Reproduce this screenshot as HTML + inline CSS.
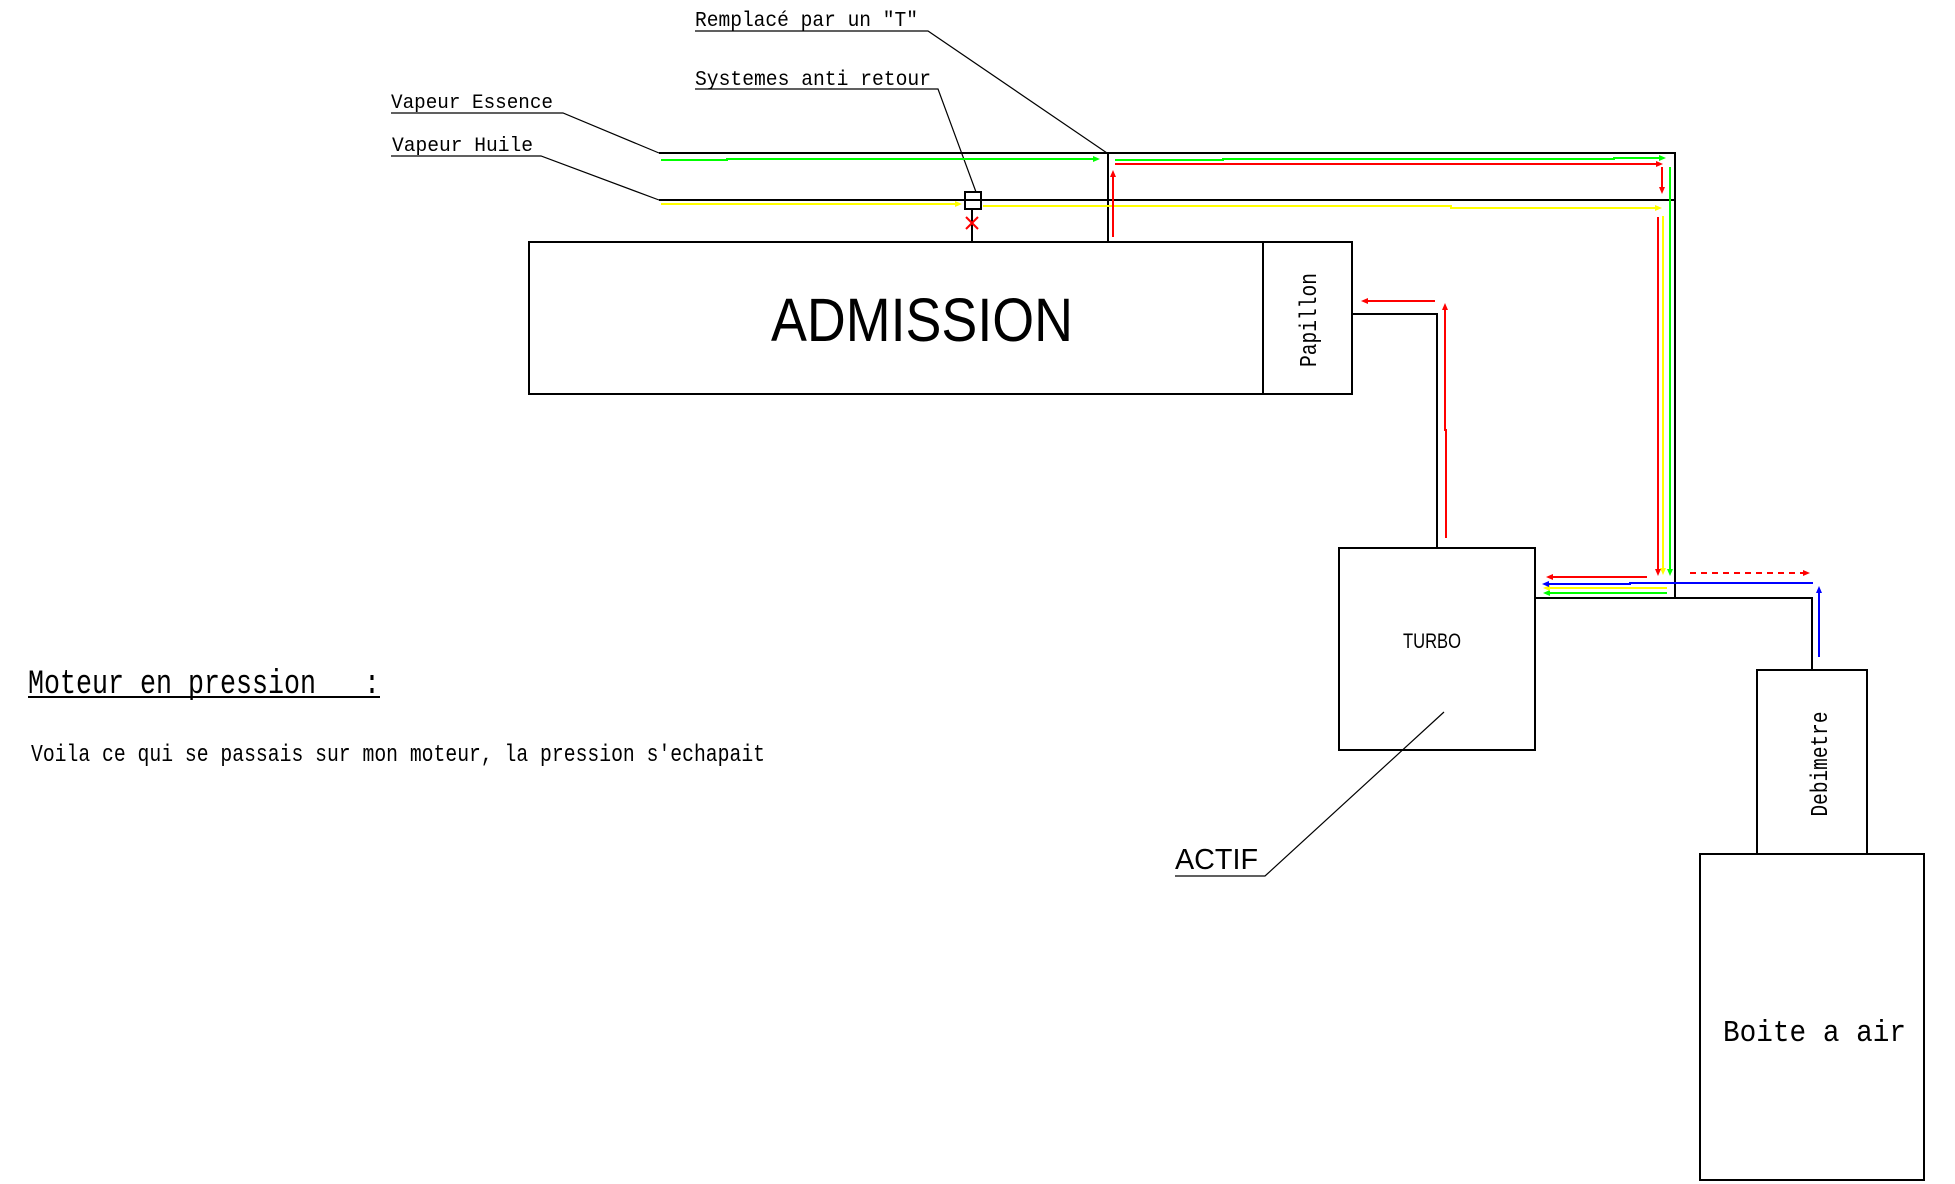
<!DOCTYPE html>
<html><head><meta charset="utf-8">
<style>html,body{margin:0;padding:0;background:#fff}svg{display:block}</style>
</head>
<body>
<svg width="1955" height="1184" viewBox="0 0 1955 1184" xmlns="http://www.w3.org/2000/svg">
<rect width="1955" height="1184" fill="#fff"/>

<!-- main black structure -->
<g stroke="#000" stroke-width="2" fill="none">
  <rect x="529" y="242" width="823" height="152"/>
  <line x1="1263" y1="242" x2="1263" y2="394"/>
  <line x1="659" y1="153" x2="1675" y2="153"/>
  <line x1="659" y1="200" x2="1675" y2="200"/>
  <line x1="1675" y1="152" x2="1675" y2="598"/>
  <line x1="1108" y1="153" x2="1108" y2="242"/>
  <line x1="972" y1="209" x2="972" y2="242"/>
  <rect x="965" y="192" width="16" height="17"/>
  <polyline points="1352,314 1437,314 1437,548"/>
  <rect x="1339" y="548" width="196" height="202"/>
  <polyline points="1535,598 1812,598 1812,670"/>
  <rect x="1757" y="670" width="110" height="184"/>
  <rect x="1700" y="854" width="224" height="326"/>
  <line x1="28" y1="697" x2="380" y2="697"/>
</g>

<!-- leaders -->
<g stroke="#000" stroke-width="1.2" fill="none">
  <polyline points="695,31 928,31 1107,153"/>
  <polyline points="695,89 938,89 976,192"/>
  <polyline points="391,113 563,113 659,153"/>
  <polyline points="391,156 541,156 659,200"/>
  <polyline points="1175,876 1265,876 1444,712"/>
</g>

<!-- red X -->
<g stroke="#f00" stroke-width="2">
  <line x1="966" y1="217" x2="978" y2="229"/>
  <line x1="966" y1="229" x2="978" y2="217"/>
</g>

<!-- green -->
<g stroke="#00ff00" stroke-width="2" fill="none">
  <polyline points="661,160 727,160 727,159 1094,159"/>
  <polyline points="1115,160 1223,160 1223,159 1614,159 1614,158 1660,158"/>
  <line x1="1670" y1="167" x2="1670" y2="570"/>
  <line x1="1667" y1="593" x2="1549" y2="593"/>
</g>
<g fill="#00ff00">
  <polygon points="1100,159 1093,156 1093,162"/>
  <polygon points="1666,158 1659,155 1659,161"/>
  <polygon points="1670,576 1667,569 1673,569"/>
  <polygon points="1543,593 1550,590 1550,596"/>
</g>

<!-- yellow -->
<g stroke="#ffff00" stroke-width="2" fill="none">
  <line x1="661" y1="204" x2="956" y2="204"/>
  <polyline points="983,206 1451,206 1451,208 1656,208"/>
  <line x1="1663" y1="216" x2="1663" y2="569"/>
  <line x1="1667" y1="588" x2="1549" y2="588"/>
</g>
<g fill="#ffff00">
  <polygon points="962,204 955,201 955,207"/>
  <polygon points="1662,208 1655,205 1655,211"/>
  <polygon points="1663,575 1660,568 1666,568"/>
  <polygon points="1543,588 1550,585 1550,591"/>
</g>

<!-- red -->
<g stroke="#f00" stroke-width="2" fill="none">
  <line x1="1113" y1="237" x2="1113" y2="176"/>
  <line x1="1115" y1="164" x2="1657" y2="164"/>
  <line x1="1662" y1="167" x2="1662" y2="188"/>
  <line x1="1658" y1="217" x2="1658" y2="569"/>
  <line x1="1647" y1="577" x2="1552" y2="577"/>
  <line x1="1690" y1="573" x2="1804" y2="573" stroke-dasharray="6 5"/>
  <polyline points="1446,538 1446,430 1445,430 1445,309"/>
  <line x1="1435" y1="301" x2="1367" y2="301"/>
</g>
<g fill="#f00">
  <polygon points="1113,170 1110,177 1116,177"/>
  <polygon points="1663,164 1656,161 1656,167"/>
  <polygon points="1662,194 1659,187 1665,187"/>
  <polygon points="1658,576 1655,569 1661,569"/>
  <polygon points="1546,577 1553,574 1553,580"/>
  <polygon points="1810,573 1803,570 1803,576"/>
  <polygon points="1445,303 1442,310 1448,310"/>
  <polygon points="1361,301 1368,298 1368,304"/>
</g>

<!-- blue -->
<g stroke="#0000ff" stroke-width="2" fill="none">
  <polyline points="1813,583 1630,583 1630,584 1548,584"/>
  <line x1="1819" y1="657" x2="1819" y2="592"/>
</g>
<g fill="#0000ff">
  <polygon points="1542,584 1549,581 1549,587"/>
  <polygon points="1819,586 1816,593 1822,593"/>
</g>

<!-- text -->
<g fill="#000" font-family="'Liberation Mono', monospace">
  <text x="695" y="26" font-size="21" textLength="223" lengthAdjust="spacingAndGlyphs">Remplacé par un "T"</text>
  <text x="695" y="85" font-size="21" textLength="236" lengthAdjust="spacingAndGlyphs">Systemes anti retour</text>
  <text x="391" y="108" font-size="20" textLength="162" lengthAdjust="spacingAndGlyphs">Vapeur Essence</text>
  <text x="392" y="151" font-size="20" textLength="141" lengthAdjust="spacingAndGlyphs">Vapeur Huile</text>
  <text x="28" y="693" font-size="34" style="white-space:pre" textLength="352" lengthAdjust="spacingAndGlyphs">Moteur en pression   :</text>
  <text x="31" y="761" font-size="24" textLength="734" lengthAdjust="spacingAndGlyphs">Voila ce qui se passais sur mon moteur, la pression s'echapait</text>
  <text x="1723" y="1041" font-size="31" textLength="183" lengthAdjust="spacingAndGlyphs">Boite a air</text>
  <text x="1316" y="320" font-size="24" text-anchor="middle" textLength="94" lengthAdjust="spacingAndGlyphs" transform="rotate(-90 1316 320)">Papillon</text>
  <text x="1827" y="764" font-size="24" text-anchor="middle" textLength="105" lengthAdjust="spacingAndGlyphs" transform="rotate(-90 1827 764)">Debimetre</text>
</g>
<g fill="#000" font-family="'Liberation Sans', sans-serif">
  <text x="771" y="341" font-size="61" textLength="302" lengthAdjust="spacingAndGlyphs">ADMISSION</text>
  <text x="1403" y="648" font-size="21" textLength="58" lengthAdjust="spacingAndGlyphs">TURBO</text>
  <text x="1175" y="869" font-size="29" textLength="83" lengthAdjust="spacingAndGlyphs">ACTIF</text>
</g>
</svg>
</body></html>
